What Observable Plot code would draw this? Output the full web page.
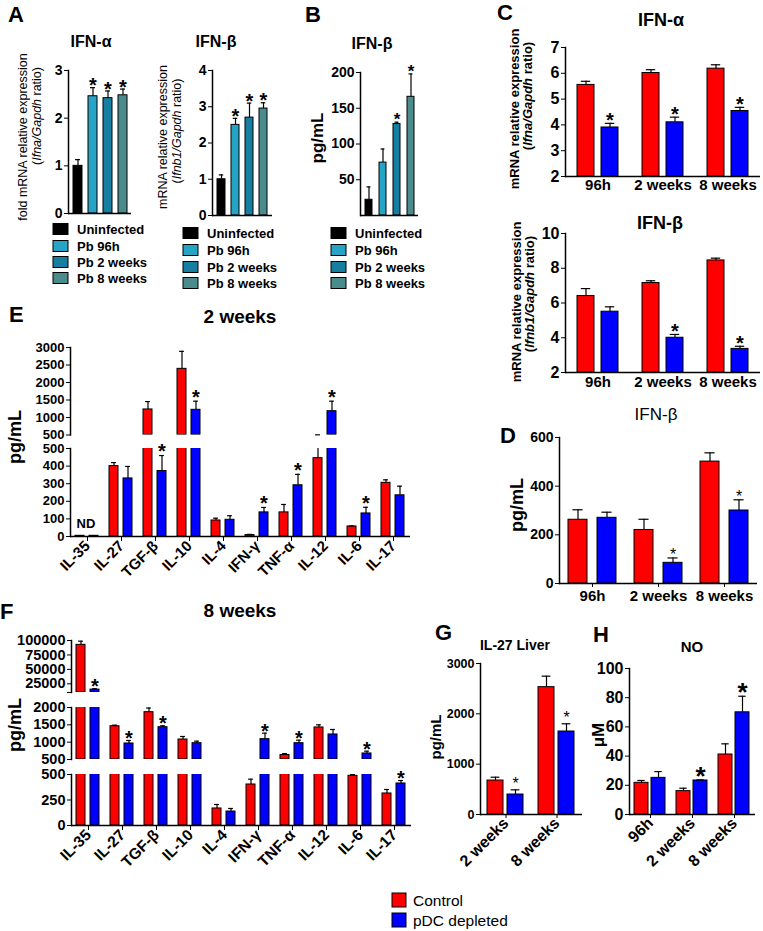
<!DOCTYPE html>
<html><head><meta charset="utf-8">
<script src="https://cdn.jsdelivr.net/npm/d3@7"></script>
<script src="https://cdn.jsdelivr.net/npm/@observablehq/plot@0.6"></script>
<style>
html,body{margin:0;padding:0;background:#fff;}
#root{position:relative;width:763px;height:931px;overflow:hidden;background:#fff;}
#root svg{position:absolute;overflow:visible;max-width:none;background:transparent;}
</style></head><body><div id="root"></div>
<script>
// ---------------- DATA ----------------
const aGroups = ["Uninfected", "Pb 96h", "Pb 2 weeks", "Pb 8 weeks"];
const aColors = ["#000000", "#25a4c6", "#167ea0", "#4a8c8c"];
const aIfnaMean = [1.0, 2.46, 2.42, 2.48];
const aIfnaErr = [0.13, 0.18, 0.15, 0.13];
const aIfnaStar = [false, true, true, true];
const aIfnaTicks = [0, 1, 2, 3];
const aIfnbMean = [1.0, 2.5, 2.7, 2.95];
const aIfnbErr = [0.12, 0.18, 0.4, 0.16];
const aIfnbStar = [false, true, true, true];
const aIfnbTicks = [0, 1, 2, 3, 4];
const bIfnbMean = [22, 74, 128, 166];
const bIfnbErr = [18, 19, 2.5, 32];
const bIfnbStar = [false, false, true, true];
const bTicks = [50, 100, 150, 200];

const series = ["Control", "pDC depleted"];
const seriesColors = ["#ff0000", "#0000ff"];
const times = ["96h", "2 weeks", "8 weeks"];

const cIfnaCtrl = [5.55, 6.01, 6.18];
const cIfnaCtrlErr = [0.14, 0.13, 0.15];
const cIfnaPdc = [3.9, 4.1, 4.54];
const cIfnaPdcErr = [0.16, 0.2, 0.14];
const cIfnaStar = [true, true, true];
const cIfnaTicks = [2, 3, 4, 5, 6, 7];

const cIfnbCtrl = [6.4, 7.15, 8.45];
const cIfnbCtrlErr = [0.43, 0.13, 0.13];
const cIfnbPdc = [5.5, 4.0, 3.36];
const cIfnbPdcErr = [0.28, 0.19, 0.15];
const cIfnbStar = [false, true, true];
const cIfnbTicks = [2, 4, 6, 8, 10];

const dIfnbCtrl = [262, 220, 501];
const dIfnbCtrlErr = [41, 44, 36];
const dIfnbPdc = [270, 85, 300];
const dIfnbPdcErr = [23, 20, 44];
const dIfnbStar = [false, true, true];
const dTicks = [0, 200, 400, 600];

const cytokines = ["IL-35", "IL-27", "TGF-β", "IL-10", "IL-4", "IFN-γ", "TNF-α", "IL-12", "IL-6", "IL-17"];
const e2wCtrl = [4, 400, 1230, 2390, 91, 8, 137, 445, 57, 305];
const e2wCtrlErr = [0, 20, 225, 500, 13, 4, 45, 60, 3, 17];
const e2wPdc = [4, 330, 372, 1220, 95, 137, 291, 1180, 131, 234];
const e2wPdcErr = [0, 68, 88, 246, 23, 28, 62, 286, 35, 52];
const e2wStar = [false, false, true, true, false, true, true, true, true, false];
const eUpperTicks = [500, 1000, 1500, 2000, 2500, 3000];
const eLowerTicks = [0, 100, 200, 300, 400, 500];

const f8wCtrl = [92500, 1460, 1865, 1077, 167, 402, 630, 1424, 487, 314];
const f8wCtrlErr = [6300, 30, 120, 87, 39, 52, 40, 76, 12, 39];
const f8wPdc = [15000, 962, 1432, 971, 137, 1087, 971, 1222, 674, 412];
const f8wPdcErr = [1500, 87, 40, 58, 30, 173, 87, 144, 66, 29];
const f8wStar = [true, true, true, false, false, true, true, false, true, true];
const fTopTicks = [10000, 25000, 50000, 75000, 100000];
const fMidTicks = [500, 1000, 1500, 2000];
const fLowTicks = [0, 250, 500];

const gGroups = ["2 weeks", "8 weeks"];
const gCtrl = [675, 2530];
const gCtrlErr = [66, 218];
const gPdc = [397, 1649];
const gPdcErr = [93, 153];
const gStar = [true, true];
const gTicks = [0, 1000, 2000, 3000];

const hCtrl = [21.7, 16, 41.1];
const hCtrlErr = [1.6, 2, 7.3];
const hPdc = [25.1, 23.3, 70];
const hPdcErr = [4.3, 0.4, 11];
const hStar = [false, true, true];
const hTicks = [0, 20, 40, 60, 80, 100];

// ---------------- HELPERS ----------------
const FONT = "'Liberation Sans', Arial, Helvetica, sans-serif";
const NARROW = "'Liberation Sans Narrow', 'Arial Narrow', 'Liberation Sans', Arial, sans-serif";
const root = document.getElementById("root");
function put(svg, left, top) {
  svg.style.left = left + "px";
  svg.style.top = top + "px";
  root.appendChild(svg);
}
const fmtInt = d3.format("d");

function singlePanel(o) {
  const rows = o.cats.map((c, i) => ({c, v: o.vals[i], e: o.errs[i], star: o.stars[i]}));
  const ml = 30, mt = 14, mr = 6, mb = 6;
  const step = (o.x1 - o.x0) / (o.cats.length - o.pi + 2 * o.po);
  const cap = step * (1 - o.pi) * 0.22;
  const top = d => d.v + d.e;
  const d0 = o.domain[0];
  const svg = Plot.plot({
    width: o.x1 - o.x0 + ml + mr, height: o.yBot - o.yTop + mt + mb,
    marginLeft: ml, marginRight: mr, marginTop: mt, marginBottom: mb,
    style: {fontFamily: FONT, background: "transparent", overflow: "visible", color: "black"},
    x: {domain: o.cats, paddingInner: o.pi, paddingOuter: o.po, axis: null},
    y: {domain: o.domain},
    color: {domain: o.cats, range: o.colors},
    marks: [
      Plot.barY(rows, {x: "c", y1: () => d0, y2: "v", fill: "c", stroke: "black", strokeWidth: 1}),
      Plot.ruleX(rows, {x: "c", y1: "v", y2: top, stroke: "black", strokeWidth: 1.2}),
      Plot.tickY(rows, {x: "c", y: top, stroke: "black", strokeWidth: 1.2, insetLeft: cap, insetRight: cap}),
      Plot.text(rows.filter(d => d.star), {x: "c", y: top, text: () => "*", lineAnchor: "bottom",
        dy: 0.58 * o.starSize - o.starGap, fontSize: o.starSize, fontWeight: "bold"}),
      Plot.axisY({ticks: o.ticks, tickSize: 4, tickPadding: 2, fontSize: o.tickFont, fontWeight: "bold",
        label: null, tickFormat: fmtInt}),
      Plot.frame({anchor: "left", strokeWidth: 1.5}),
      Plot.ruleY([d0], {strokeWidth: 1.5})
    ]
  });
  put(svg, o.x0 - ml, o.yTop - mt);
}

function groupedPanel(o) {
  const rows = [];
  o.groups.forEach((g, i) => {
    rows.push({g, s: series[0], v: o.ctrl[i], e: o.ctrlErr[i], star: false});
    rows.push({g, s: series[1], v: o.pdc[i], e: o.pdcErr[i], star: o.pdcStar[i]});
  });
  const [d0, d1] = o.domain;
  const ml = 70, mt = 14, mr = 6, mb = 8;
  const facetW = (o.x1 - o.x0) / o.groups.length;
  const step = facetW / (2 - o.pi + 2 * o.po);
  const cap = step * (1 - o.pi) * 0.22;
  const top = d => d.v + d.e;
  const inSeg = d => top(d) >= d0 && top(d) <= d1;
  const family = o.family || FONT;
  const barRows = rows.filter(d => d.v > d0);
  const errRows = rows.filter(d => d.e > 0 && top(d) > d0 && d.v < d1);
  const capRows = rows.filter(d => d.e > 0 && inSeg(d));
  const marks = [
    // invisible anchor so that every facet exists (keeps the y axis on the first category)
    Plot.tickY(rows, {fx: "g", x: "s", y: () => d0, strokeOpacity: 0}),
    Plot.barY(barRows, {fx: "g", x: "s", y1: () => d0, y2: "v", fill: "s", stroke: "black", strokeWidth: 1, clip: true}),
    Plot.ruleX(errRows, {fx: "g", x: "s", y1: d => Math.max(d.v, d0), y2: top, stroke: "black", strokeWidth: 1.2, clip: true}),
    Plot.tickY(capRows, {fx: "g", x: "s", y: top, stroke: "black", strokeWidth: 1.2,
      insetLeft: cap, insetRight: cap}),
    Plot.text(rows.filter(d => d.star && inSeg(d)), {fx: "g", x: "s", y: top, text: () => "*", lineAnchor: "bottom",
      dy: 0.58 * o.starSize - o.starGap, fontSize: o.starSize, fontWeight: o.starWeight || "bold"}),
    Plot.axisY({ticks: o.ticks, tickSize: 4, tickPadding: 2, fontSize: o.tickFont, fontWeight: "bold",
      label: null, tickFormat: o.tickFormat || fmtInt}),
    Plot.frame({anchor: "left", facetAnchor: "left", strokeWidth: 1.5})
  ];
  if (o.baseline !== false) marks.push(Plot.ruleY([d0], {strokeWidth: 1.5}));
  if (o.xlabels) marks.push(Plot.axisFx({anchor: "bottom", tickSize: o.xlabels.tickSize, tickRotate: o.xlabels.rotate || 0,
    fontSize: o.xlabels.fontSize, fontWeight: "bold", tickPadding: o.xlabels.pad, label: null}));
  const svg = Plot.plot({
    width: o.x1 - o.x0 + ml + mr, height: o.yBot - o.yTop + mt + mb,
    marginLeft: ml, marginRight: mr, marginTop: mt, marginBottom: mb,
    style: {fontFamily: family, background: "transparent", overflow: "visible", color: "black"},
    fx: o.xlabels ? {domain: o.groups, padding: 0} : {domain: o.groups, padding: 0, axis: null},
    x: {domain: series, paddingInner: o.pi, paddingOuter: o.po, axis: null},
    y: {domain: o.domain},
    color: {domain: series, range: seriesColors},
    marks
  });
  put(svg, o.x0 - ml, o.yTop - mt);
}

// ---------------- PANELS ----------------
// A
singlePanel({cats: aGroups, vals: aIfnaMean, errs: aIfnaErr, stars: aIfnaStar, colors: aColors,
  x0: 68, x1: 131, yTop: 70, yBot: 213, domain: [0, 3], ticks: aIfnaTicks, pi: 0.4, po: 0.27,
  tickFont: 14, starSize: 20, starGap: 7});
singlePanel({cats: aGroups, vals: aIfnbMean, errs: aIfnbErr, stars: aIfnbStar, colors: aColors,
  x0: 212, x1: 272, yTop: 70, yBot: 215, domain: [0, 4], ticks: aIfnbTicks, pi: 0.45, po: 0.3,
  tickFont: 14, starSize: 20, starGap: 7});
// B
singlePanel({cats: aGroups, vals: bIfnbMean, errs: bIfnbErr, stars: bIfnbStar, colors: aColors,
  x0: 360, x1: 418, yTop: 72, yBot: 215, domain: [0, 200], ticks: bTicks, pi: 0.5, po: 0.32,
  tickFont: 14, starSize: 17, starGap: 7});
// C
groupedPanel({groups: times, ctrl: cIfnaCtrl, ctrlErr: cIfnaCtrlErr, pdc: cIfnaPdc, pdcErr: cIfnaPdcErr, pdcStar: cIfnaStar,
  x0: 565, x1: 760, yTop: 47, yBot: 176, domain: [2, 7], ticks: cIfnaTicks, pi: 0.286, po: 0.49,
  tickFont: 16, starSize: 20, starGap: 8, xlabels: {tickSize: 0, pad: 3, fontSize: 15}});
groupedPanel({groups: times, ctrl: cIfnbCtrl, ctrlErr: cIfnbCtrlErr, pdc: cIfnbPdc, pdcErr: cIfnbPdcErr, pdcStar: cIfnbStar,
  x0: 565, x1: 760, yTop: 233, yBot: 372, domain: [2, 10], ticks: cIfnbTicks, pi: 0.286, po: 0.49,
  tickFont: 16, starSize: 20, starGap: 8, xlabels: {tickSize: 0, pad: 4, fontSize: 15}});
// D
groupedPanel({groups: times, ctrl: dIfnbCtrl, ctrlErr: dIfnbCtrlErr, pdc: dIfnbPdc, pdcErr: dIfnbPdcErr, pdcStar: dIfnbStar,
  x0: 558, x1: 757, yTop: 437, yBot: 583, domain: [0, 600], ticks: dTicks, pi: 0.333, po: 0.267,
  tickFont: 14, starSize: 16, starWeight: "normal", starGap: 7, xlabels: {tickSize: 4, pad: 3, fontSize: 15}});
// E (2 weeks), broken axis
groupedPanel({groups: cytokines, ctrl: e2wCtrl, ctrlErr: e2wCtrlErr, pdc: e2wPdc, pdcErr: e2wPdcErr, pdcStar: e2wStar,
  x0: 68, x1: 412, yTop: 347, yBot: 434.5, domain: [500, 3000], ticks: eUpperTicks, pi: 0.345, po: 0.36,
  tickFont: 13, starSize: 20, starGap: 9, baseline: false});
groupedPanel({groups: cytokines, ctrl: e2wCtrl, ctrlErr: e2wCtrlErr, pdc: e2wPdc, pdcErr: e2wPdcErr, pdcStar: e2wStar,
  x0: 68, x1: 412, yTop: 448, yBot: 536, domain: [0, 500], ticks: eLowerTicks, pi: 0.345, po: 0.36,
  tickFont: 13, starSize: 20, starGap: 9, xlabels: {tickSize: 5, pad: 2, fontSize: 15, rotate: -45}});
// F (8 weeks), broken axis (3 segments)
groupedPanel({groups: cytokines, ctrl: f8wCtrl, ctrlErr: f8wCtrlErr, pdc: f8wPdc, pdcErr: f8wPdcErr, pdcStar: f8wStar,
  x0: 68, x1: 413, yTop: 640, yBot: 692, domain: [10000, 100000], ticks: fTopTicks, pi: 0.345, po: 0.36,
  tickFont: 14.5, starSize: 20, starGap: 7, baseline: false, tickFormat: d => d < 25000 ? "" : fmtInt(d)});
groupedPanel({groups: cytokines, ctrl: f8wCtrl, ctrlErr: f8wCtrlErr, pdc: f8wPdc, pdcErr: f8wPdcErr, pdcStar: f8wStar,
  x0: 68, x1: 413, yTop: 707, yBot: 759, domain: [500, 2000], ticks: fMidTicks, pi: 0.345, po: 0.36,
  tickFont: 14.5, starSize: 20, starGap: 7, baseline: false});
groupedPanel({groups: cytokines, ctrl: f8wCtrl, ctrlErr: f8wCtrlErr, pdc: f8wPdc, pdcErr: f8wPdcErr, pdcStar: f8wStar,
  x0: 68, x1: 413, yTop: 774, yBot: 825, domain: [0, 500], ticks: fLowTicks, pi: 0.345, po: 0.36,
  tickFont: 14.5, starSize: 20, starGap: 7, xlabels: {tickSize: 5, pad: 2, fontSize: 15.5, rotate: -45}});
// G
groupedPanel({groups: gGroups, ctrl: gCtrl, ctrlErr: gCtrlErr, pdc: gPdc, pdcErr: gPdcErr, pdcStar: gStar,
  x0: 480, x1: 582, yTop: 663, yBot: 814, domain: [0, 3000], ticks: gTicks, pi: 0.195, po: 0.34,
  tickFont: 12.5, starSize: 16, starWeight: "normal", starGap: 10, family: NARROW,
  xlabels: {tickSize: 4, pad: 2, fontSize: 16, rotate: -45}});
// H
groupedPanel({groups: times, ctrl: hCtrl, ctrlErr: hCtrlErr, pdc: hPdc, pdcErr: hPdcErr, pdcStar: hStar,
  x0: 628, x1: 755, yTop: 668, yBot: 814, domain: [0, 100], ticks: hTicks, pi: 0.167, po: 0.258,
  tickFont: 16, starSize: 26, starGap: 10, xlabels: {tickSize: 4, pad: 2, fontSize: 16, rotate: -45}});

// ---------------- TEXT OVERLAY ----------------
const ov = d3.select(root).append("svg").attr("width", 763).attr("height", 931)
  .style("left", "0px").style("top", "0px").style("font-family", FONT);

function label(x, y, parts, o = {}) {
  const t = ov.append("text")
    .attr("transform", `translate(${x},${y})` + (o.rotate ? ` rotate(${o.rotate})` : ""))
    .attr("text-anchor", o.anchor || "start")
    .attr("font-size", o.size || 14)
    .attr("font-weight", o.weight || "bold")
    .attr("font-family", o.family || FONT)
    .attr("dominant-baseline", o.baseline || "alphabetic")
    .attr("fill", "black");
  (Array.isArray(parts) ? parts : [[parts, false]]).forEach(([s, it]) => {
    t.append("tspan").attr("font-style", it ? "italic" : "normal").text(s);
  });
}

// panel letters
[["A", 8, 22], ["B", 305, 22], ["C", 497, 20], ["D", 500, 443], ["E", 9, 322], ["F", 0, 619], ["G", 435, 640], ["H", 593, 642]]
  .forEach(([s, x, y]) => label(x, y, s, {size: 22}));

// titles
label(91, 47, "IFN-α", {size: 16, anchor: "middle"});
label(216, 47, "IFN-β", {size: 16, anchor: "middle"});
label(372, 49, "IFN-β", {size: 16, anchor: "middle"});
label(661, 26, "IFN-α", {size: 18, anchor: "middle"});
label(660, 229, "IFN-β", {size: 18, anchor: "middle"});
label(656, 420, "IFN-β", {size: 17, anchor: "middle", weight: "normal"});
label(240, 323, "2 weeks", {size: 19, anchor: "middle"});
label(240, 617, "8 weeks", {size: 19, anchor: "middle"});
label(515, 650, "IL-27 Liver", {size: 14, anchor: "middle", family: NARROW});
label(692, 652, "NO", {size: 15, anchor: "middle", family: NARROW});

// y axis titles
label(27.4, 137, "fold mRNA relative expression", {size: 12.5, weight: "normal", anchor: "middle", rotate: -90});
label(41.4, 116, [["(", false], ["Ifna/Gapdh", true], [" ratio)", false]], {size: 12.5, weight: "normal", anchor: "middle", rotate: -90});
label(167.4, 137, "mRNA relative expression", {size: 12.5, weight: "normal", anchor: "middle", rotate: -90});
label(181.4, 131, [["(", false], ["Ifnb1/Gapdh", true], [" ratio)", false]], {size: 12.5, weight: "normal", anchor: "middle", rotate: -90});
label(323, 138, "pg/mL", {size: 17, anchor: "middle", rotate: -90});
label(518.5, 109, "mRNA relative expression", {size: 13, anchor: "middle", rotate: -90});
label(531.5, 96, [["(", false], ["Ifna/Gapdh", true], [" ratio)", false]], {size: 13, anchor: "middle", rotate: -90});
label(520.5, 302, "mRNA relative expression", {size: 13, anchor: "middle", rotate: -90});
label(533.5, 294, [["(", false], ["Ifnb1/Gapdh", true], [" ratio)", false]], {size: 13, anchor: "middle", rotate: -90});
label(523, 505, "pg/mL", {size: 18, anchor: "middle", rotate: -90});
label(21, 437, "pg/mL", {size: 18, anchor: "middle", rotate: -90});
label(21, 725, "pg/mL", {size: 18, anchor: "middle", rotate: -90});
label(441, 737, "pg/mL", {size: 15, anchor: "middle", rotate: -90, family: NARROW});
label(604, 735, "μM", {size: 17, anchor: "middle", rotate: -90});
label(86, 528, "ND", {size: 13, anchor: "middle"});

// legends A / B
function groupLegend(x, centers) {
  aGroups.forEach((g, i) => {
    ov.append("rect").attr("x", x).attr("y", centers[i] - 5.5).attr("width", 15).attr("height", 11)
      .attr("fill", aColors[i]).attr("stroke", "black").attr("stroke-width", 1);
    label(x + 24, centers[i], g, {size: 13, baseline: "central"});
  });
}
groupLegend(53, [229, 246, 262, 278]);
groupLegend(183, [233, 250, 267, 283]);
groupLegend(331, [233, 250, 267, 283]);

// bottom legend
series.forEach((s, i) => {
  const cy = [900, 920][i];
  ov.append("rect").attr("x", 392).attr("y", cy - 7).attr("width", 14).attr("height", 14)
    .attr("fill", seriesColors[i]).attr("stroke", "black").attr("stroke-width", 1);
  label(413, cy, s, {size: 15.5, weight: "normal", baseline: "central"});
});
</script></body></html>
